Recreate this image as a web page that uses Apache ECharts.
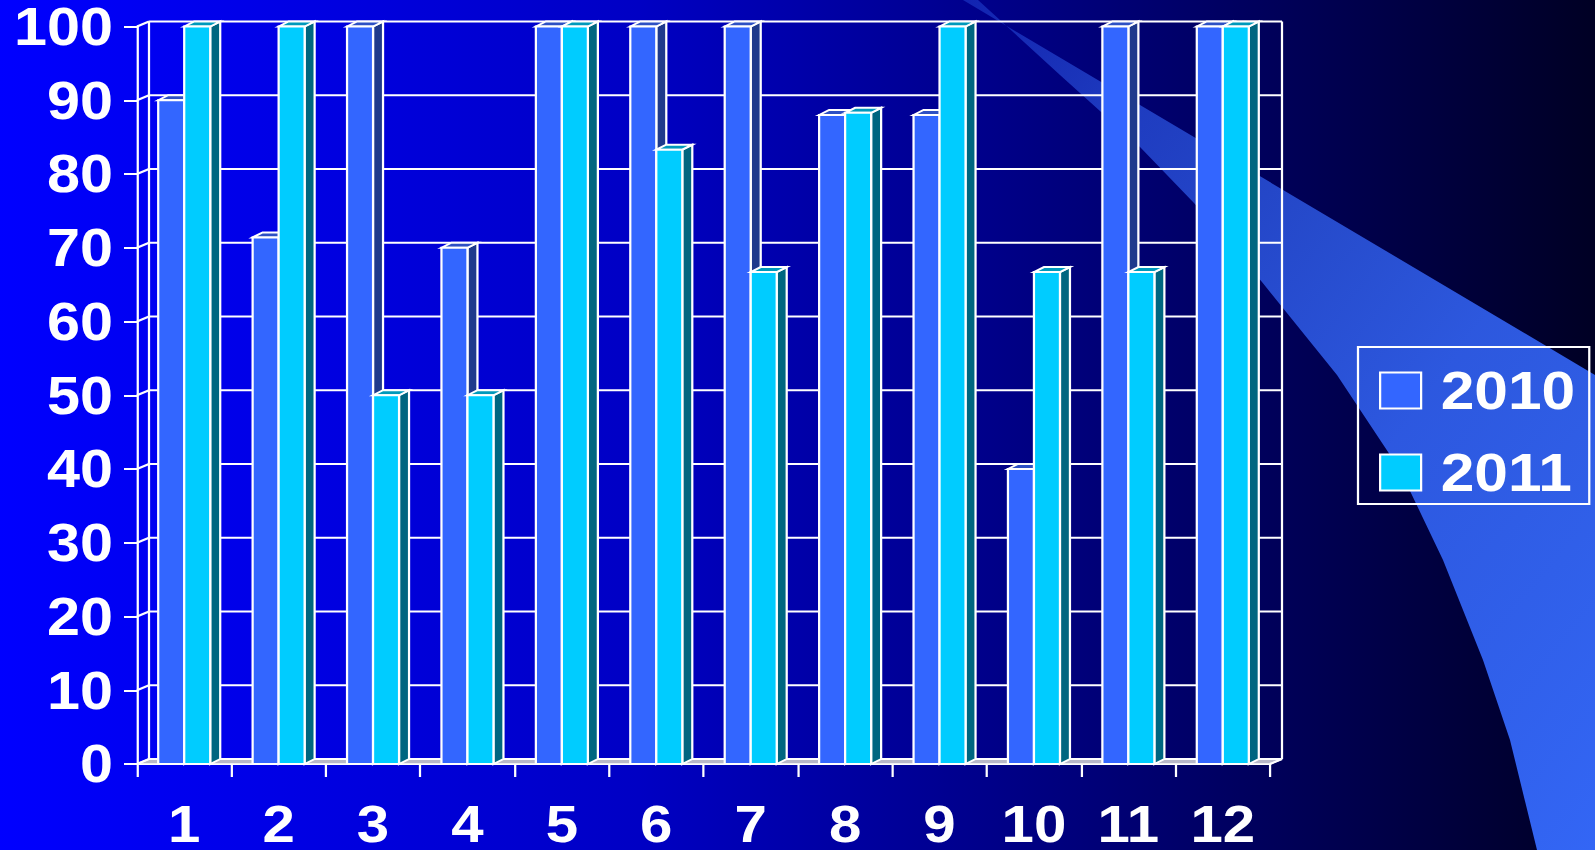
<!DOCTYPE html>
<html>
<head>
<meta charset="utf-8">
<title>2010 / 2011</title>
<script src="https://cdn.jsdelivr.net/npm/echarts@6/dist/echarts.min.js"></script>
<style>
  html, body { margin: 0; padding: 0; width: 1595px; height: 850px; overflow: hidden; background: #000022; }
  #chart { position: absolute; left: 0; top: 0; height: 850px; transform-origin: 0 0; }
</style>
</head>
<body>
<div id="chart"></div>
<script>
// Chart data
const categories = ['1', '2', '3', '4', '5', '6', '7', '8', '9', '10', '11', '12'];
const series2010 = [90, 71.4, 100, 70, 100, 100, 100, 88, 88, 40, 100, 100];
const series2011 = [100, 100, 50, 50, 100, 83.3, 66.7, 88.3, 100, 66.7, 66.7, 100];
const valueTicks = [0, 10, 20, 30, 40, 50, 60, 70, 80, 90, 100];

// The drawing is laid out in a narrower space and widened horizontally,
// which gives the wide, heavy lettering of the slide.
const S = 1.12;
const W = 1595 / S;
const sx = x => x / S;

const FONT = "'Liberation Sans', Arial, sans-serif";
const WALL_DX = sx(12), WALL_DY = -5;   // depth of the back wall
const BAR_DX = sx(10), BAR_DY = -5;     // depth of each bar
const BAR_FRAC = 26 / 94.4;             // bar width relative to a category band

const el = document.getElementById('chart');
el.style.width = W + 'px';
el.style.transform = 'scaleX(' + S + ')';

const chart = echarts.init(el, null, { renderer: 'svg', width: W, height: 850 });

const faceColors = [
  { front: '#3366FF', top: '#2D50C4', side: '#1F3A8C' },
  { front: '#00CCFF', top: '#0099BB', side: '#006680' }
];
const outline = { stroke: '#FFFFFF', lineWidth: 2, lineJoin: 'miter' };

function barRenderer(k) {
  const c = faceColors[k];
  return function (params, api) {
    const i = api.value(0), v = api.value(1);
    const top = api.coord([i, v]);
    const base = api.coord([i, 0]);
    const band = api.size([1, 0])[0];
    const bw = band * BAR_FRAC;
    const x0 = top[0] + (k - 1) * bw, x1 = x0 + bw;
    const yt = top[1], yb = base[1];
    return {
      type: 'group',
      children: [
        { type: 'polygon', shape: { points: [[x1, yt], [x1 + BAR_DX, yt + BAR_DY], [x1 + BAR_DX, yb + BAR_DY], [x1, yb]] },
          style: Object.assign({ fill: c.side }, outline) },
        { type: 'polygon', shape: { points: [[x0, yt], [x0 + BAR_DX, yt + BAR_DY], [x1 + BAR_DX, yt + BAR_DY], [x1, yt]] },
          style: Object.assign({ fill: c.top }, outline) },
        { type: 'rect', shape: { x: x0, y: yt, width: bw, height: yb - yt },
          style: Object.assign({ fill: c.front }, outline) }
      ]
    };
  };
}

// Back wall, side wall connectors and floor of the 3D box
function frameRenderer(params, api) {
  const band = api.size([1, 0])[0];
  const left = api.coord([0, 0])[0] - band / 2;
  const right = api.coord([categories.length - 1, 0])[0] + band / 2;
  const y0 = api.coord([0, valueTicks[0]])[1];
  const yTop = api.coord([0, valueTicks[valueTicks.length - 1]])[1];
  const line = { stroke: '#FFFFFF', lineWidth: 2 };
  const children = [];
  children.push({ type: 'polygon',
    shape: { points: [[left, y0], [right, y0], [right + WALL_DX, y0 + WALL_DY], [left + WALL_DX, y0 + WALL_DY]] },
    style: { fill: '#B8B8C8', stroke: '#FFFFFF', lineWidth: 1.5 } });
  valueTicks.forEach(function (t) {
    const y = api.coord([0, t])[1];
    children.push({ type: 'line', shape: { x1: left + WALL_DX, y1: y + WALL_DY, x2: right + WALL_DX, y2: y + WALL_DY }, style: line });
    children.push({ type: 'line', shape: { x1: left, y1: y, x2: left + WALL_DX, y2: y + WALL_DY }, style: line });
  });
  children.push({ type: 'line', shape: { x1: left + WALL_DX, y1: y0 + WALL_DY, x2: left + WALL_DX, y2: yTop + WALL_DY }, style: line });
  children.push({ type: 'line', shape: { x1: right + WALL_DX, y1: y0 + WALL_DY, x2: right + WALL_DX, y2: yTop + WALL_DY }, style: line });
  children.push({ type: 'line', shape: { x1: right, y1: y0, x2: right + WALL_DX, y2: y0 + WALL_DY }, style: line });
  return { type: 'group', children: children };
}

// Light beam across the right side of the slide
const beamPoints = [
  [963, 0], [978, 0], [1060, 75], [1140, 147], [1194, 203], [1262, 282], [1337, 375],
  [1400, 470], [1443, 560], [1483, 660], [1510, 740], [1537, 850], [1595, 850], [1595, 375]
].map(p => [sx(p[0]), p[1]]);

const option = {
  backgroundColor: new echarts.graphic.LinearGradient(0, 0, 1, 0, [
    { offset: 0, color: '#0000FF' },
    { offset: 0.4, color: '#0000C4' },
    { offset: 0.7, color: '#000074' },
    { offset: 1, color: '#000024' }
  ]),
  animation: false,
  textStyle: { fontFamily: FONT },
  graphic: [{
    type: 'polygon', z: -10, silent: true,
    shape: { points: beamPoints },
    style: {
      fill: new echarts.graphic.LinearGradient(0, 0, 1, 1, [
        { offset: 0, color: 'rgba(51,100,245,0.35)' },
        { offset: 0.2, color: 'rgba(51,100,245,0.6)' },
        { offset: 0.6, color: 'rgba(51,100,245,0.88)' },
        { offset: 1, color: 'rgba(51,102,245,1)' }
      ])
    }
  }],
  grid: { left: sx(137), right: W - sx(1270), top: 25, bottom: 86, containLabel: false },
  xAxis: {
    type: 'category',
    data: categories,
    boundaryGap: true,
    axisLine: { show: true, lineStyle: { color: '#FFFFFF', width: 2 } },
    axisTick: { show: true, length: 13, lineStyle: { color: '#FFFFFF', width: 2 } },
    axisLabel: { color: '#FFFFFF', fontSize: 52, fontWeight: 'bold', fontFamily: FONT, margin: 34 },
    splitLine: { show: false }
  },
  yAxis: {
    type: 'value', min: 0, max: 100, interval: 10,
    axisLine: { show: true, lineStyle: { color: '#FFFFFF', width: 2 } },
    axisTick: { show: true, length: sx(13), lineStyle: { color: '#FFFFFF', width: 2 } },
    axisLabel: { color: '#FFFFFF', fontSize: 53, fontWeight: 'bold', fontFamily: FONT, margin: sx(24), padding: [6, 0, 0, 0] },
    splitLine: { show: false }
  },
  legend: {
    data: ['2010', '2011'],
    orient: 'vertical',
    left: sx(1358), top: 347,
    itemWidth: sx(41), itemHeight: 36, itemGap: 28,
    padding: [16.5, sx(14), 4.5, sx(21)],
    borderColor: '#FFFFFF', borderWidth: 2,
    icon: 'rect',
    itemStyle: { borderColor: '#FFFFFF', borderWidth: 2 },
    textStyle: { color: '#FFFFFF', fontSize: 54, fontWeight: 'bold', fontFamily: FONT, padding: [0, 0, 0, sx(14)] }
  },
  series: [
    { type: 'custom', name: 'frame', silent: true, z: 1, renderItem: frameRenderer, data: [[0, 0]], encode: { x: 0, y: 1 } },
    { type: 'custom', name: '2010', z: 3, renderItem: barRenderer(0),
      itemStyle: { color: faceColors[0].front, borderColor: '#FFFFFF', borderWidth: 2 },
      data: series2010.map((v, i) => [i, v]), encode: { x: 0, y: 1 } },
    { type: 'custom', name: '2011', z: 4, renderItem: barRenderer(1),
      itemStyle: { color: faceColors[1].front, borderColor: '#FFFFFF', borderWidth: 2 },
      data: series2011.map((v, i) => [i, v]), encode: { x: 0, y: 1 } }
  ]
};

chart.setOption(option);
</script>
</body>
</html>
